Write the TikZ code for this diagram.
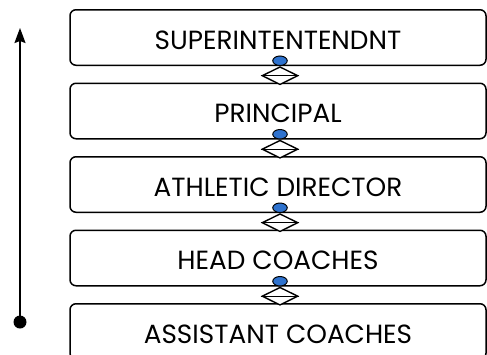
\documentclass[tikz,border=0pt]{standalone}
\usepackage{fontspec}
\setmainfont{Poppins}
\usetikzlibrary{arrows.meta, shapes.geometric}
\definecolor{knobblue}{RGB}{46,114,206}

\begin{document}
\begin{tikzpicture}[x=1pt, y=-1pt,
    level/.style={draw, line width=1.5pt, rounded corners=6pt, minimum width=416pt,
        minimum height=55.5pt, inner sep=0pt, text height=23pt, text depth=0pt,
        font=\fontsize{26.3}{28}\selectfont},
    knob/.style={ellipse, draw, fill=knobblue, line width=1pt, minimum width=14.5pt,
        minimum height=9.5pt, inner sep=0pt},
    link/.style={diamond, draw, fill=white, line width=1.4pt, minimum width=36pt,
        minimum height=18pt, inner sep=0pt, aspect=2},
    tailpt/.style={circle, fill=black, minimum size=13pt, inner sep=0pt}]
    \useasboundingbox (0,0) rectangle (487,354);
    \clip (0,0) rectangle (487,354);
    % NIVELES
    \node[level] (super) at (278,37.5) {SUPERINTENTENDNT};
    \node[level] (princ) at (278,111) {PRINCIPAL};
    \node[level] (athl) at (278,184.5) {ATHLETIC DIRECTOR};
    \node[level] (head) at (278,258) {HEAD COACHES};
    \node[level] (asst) at (278,331.5) {ASSISTANT COACHES};
    % UNIONES
    \foreach \a/\b in {super/princ, princ/athl, athl/head, head/asst} {
        \node[link, anchor=north] (d-\a) at ([xshift=2pt]\a.south) {};
        \draw[line width=1.4pt] (d-\a.west) -- (d-\a.east);
        \node[knob, anchor=south] (k-\a) at ([xshift=2pt]\a.south) {};
    }
    % FLECHA
    \node[tailpt] (tail) at (20,322) {};
    \coordinate (tip) at (20,28);
    \draw[line width=1.6pt, -{Stealth[length=15pt, width=11pt, inset=2pt]}] (tail.center) -- (tip);
\end{tikzpicture}
\end{document}
